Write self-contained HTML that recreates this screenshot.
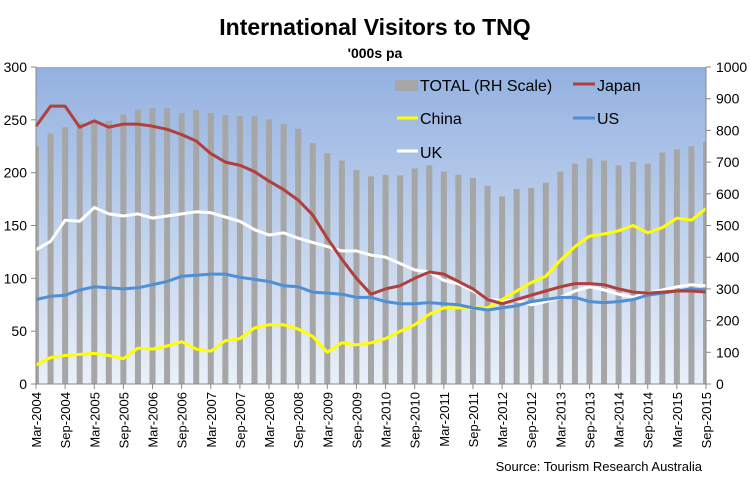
<!DOCTYPE html>
<html><head><meta charset="utf-8"><style>
body{margin:0;background:#fff;width:750px;height:488px;overflow:hidden}
svg{font-family:"Liberation Sans",Calibri,sans-serif}
</style></head><body>
<svg id="s" width="750" height="488" xmlns="http://www.w3.org/2000/svg">
<defs><linearGradient id="g" x1="0" y1="0" x2="0" y2="1">
<stop offset="0" stop-color="#93b1e0"/><stop offset="1" stop-color="#eaf0f9"/></linearGradient></defs>
<text x="375" y="35" text-anchor="middle" font-size="23" font-weight="bold">International Visitors to TNQ</text>
<text x="375" y="58" text-anchor="middle" font-size="14" font-weight="bold">'000s pa</text>
<rect x="36" y="67" width="670" height="317" fill="url(#g)"/>
<g id="bars"></g><g id="lines"></g><g id="ax"></g>
<rect x="395" y="80" width="23" height="11" fill="#a6a6a6"/>
<text x="420" y="91" font-size="16">TOTAL (RH Scale)</text>
<line x1="573" y1="84" x2="595" y2="84" stroke="#b0403d" stroke-width="3"/>
<text x="597" y="91" font-size="16">Japan</text>
<line x1="397" y1="118" x2="418" y2="118" stroke="#ffff00" stroke-width="3"/>
<text x="420" y="124" font-size="16">China</text>
<line x1="573" y1="118" x2="595" y2="118" stroke="#4f8fd6" stroke-width="3"/>
<text x="597" y="124" font-size="16">US</text>
<line x1="397" y1="151" x2="418" y2="151" stroke="#fff" stroke-width="3"/>
<text x="420" y="158" font-size="16">UK</text>
<text x="702" y="471" text-anchor="end" font-size="13">Source: Tourism Research Australia</text>
</svg>
<script>
var N=47,x0=36,dx=670/46;
function X(i){return x0+i*dx}
function L(v){return 384-v*317/300}
function R(v){return 384-v*0.317}
var tot=[750,790,810,825,830,830,850,865,870,870,855,865,855,848,845,845,835,820,805,760,728,705,675,655,660,658,680,690,670,660,650,625,592,615,618,635,670,695,712,705,690,700,695,730,740,750,765];
var jp=[244,263,263,243,249,243,246,246,244,241,236,230,218,210,207,201,192,184,174,160,138,118,100,85,90,93,100,106,104,97,90,80,76,80,84,88,92,95,95,94,90,87,86,87,88,88,87];
var cn=[18,25,27,28,29,27,24,34,33,36,40,33,31,41,43,53,56,56,52,45,30,39,37,39,43,50,56,66,72,72,72,72,80,88,96,102,117,130,140,142,145,150,143,148,157,155,166];
var us=[80,83,84,89,92,91,90,91,94,97,102,103,104,104,101,99,97,93,92,87,86,85,82,82,78,76,76,77,76,75,72,70,72,74,78,80,82,82,78,77,78,80,84,86,88,90,89];
var uk=[127,135,155,154,167,161,159,161,157,159,161,163,162,158,154,146,141,143,138,134,130,126,126,122,120,114,108,106,98,95,88,80,79,79,75,78,82,88,92,89,85,82,86,89,92,94,93];
var ns="http://www.w3.org/2000/svg";
function el(p,t,a){var e=document.createElementNS(ns,t);for(var k in a)e.setAttribute(k,a[k]);p.appendChild(e);return e}
var b=document.getElementById("bars");
for(var i=0;i<N;i++){var x=X(i)-3,w=6;if(x<36){w-=36-x;x=36}if(x+w>706)w=706-x;el(b,"rect",{x:x,y:R(tot[i]),width:w,height:384-R(tot[i]),fill:"#a6a6a6"})}
var lg=document.getElementById("lines");
function line(d,c){var p=d.map(function(v,i){return X(i).toFixed(1)+","+L(v).toFixed(1)}).join(" ");el(lg,"polyline",{points:p,fill:"none",stroke:c,"stroke-width":3,"stroke-linejoin":"round"})}
line(uk,"#fff");line(cn,"#ffff00");line(us,"#4f8fd6");line(jp,"#b0403d");
var a=document.getElementById("ax");
el(a,"line",{x1:36,y1:67,x2:36,y2:384,stroke:"#888"});
el(a,"line",{x1:706,y1:67,x2:706,y2:384,stroke:"#888"});
el(a,"line",{x1:36,y1:384,x2:706,y2:384,stroke:"#888"});
for(var v=0;v<=300;v+=50){var y=L(v);el(a,"line",{x1:31,y1:y,x2:36,y2:y,stroke:"#888"});var t=el(a,"text",{x:27,y:y+5,"text-anchor":"end","font-size":14});t.textContent=v}
for(var v=0;v<=1000;v+=100){var y=R(v);el(a,"line",{x1:706,y1:y,x2:711,y2:y,stroke:"#888"});var t=el(a,"text",{x:716,y:y+5,"font-size":14});t.textContent=v}
for(var i=0;i<N;i+=2){var x=X(i);el(a,"line",{x1:x,y1:384,x2:x,y2:389,stroke:"#888"});var yr=2004+Math.floor(i/4);var lab=(i%4==0?"Mar-":"Sep-")+yr;var t=el(a,"text",{x:x+5,y:392,"text-anchor":"end","font-size":13,transform:"rotate(-90 "+(x+5)+" 392)"});t.textContent=lab}
</script>
</body></html>
